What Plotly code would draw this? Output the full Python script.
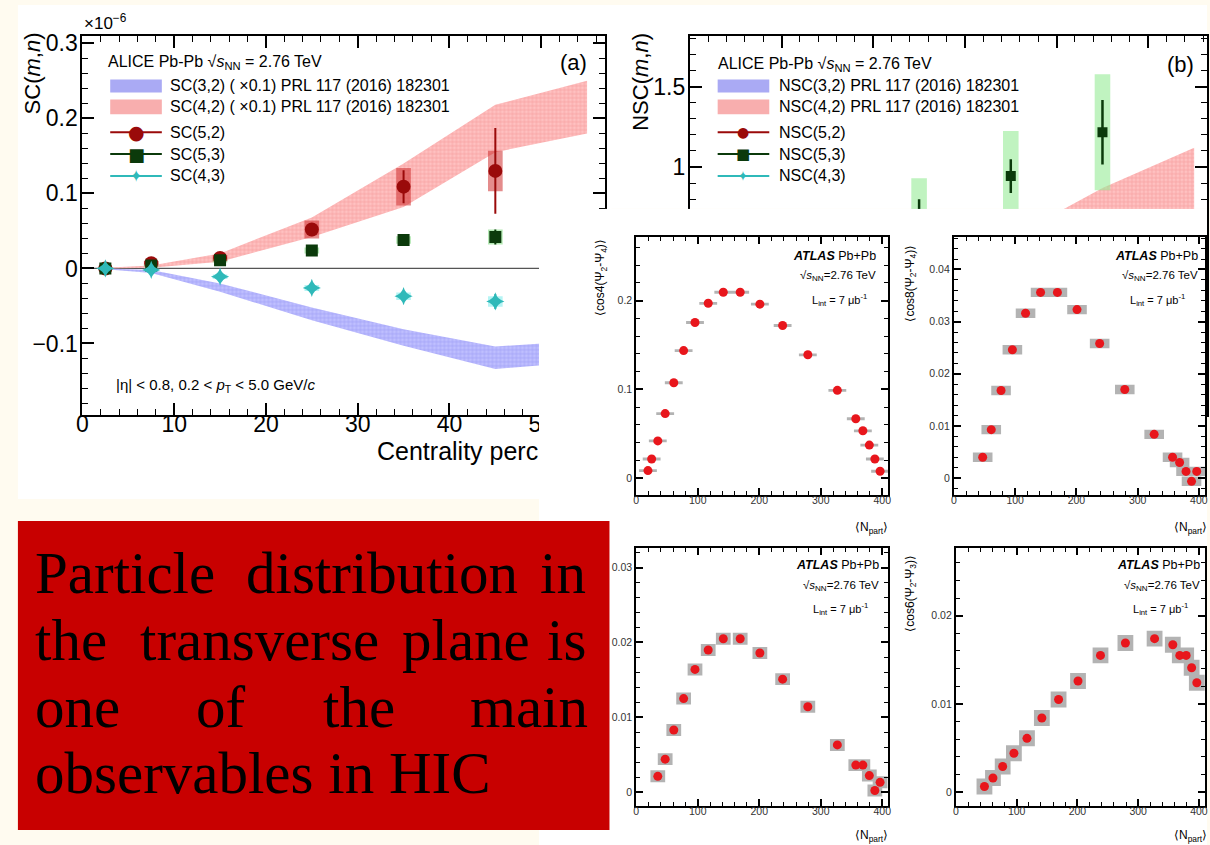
import plotly.graph_objects as go

W, H = 1210, 845
SANS = "Liberation Sans, Arial, Helvetica, sans-serif"
SERIF = "Liberation Serif, Times New Roman, serif"

# ---------------- panel (a): ALICE SC(m,n) ----------------
cent = [2.5, 7.5, 15, 25, 35, 45]
sc52 = [0.000, 0.007, 0.014, 0.052, 0.109, 0.130]
sc52_stat = [0.002, 0.002, 0.003, 0.007, 0.022, 0.057]
sc52_sys = [0.002, 0.003, 0.004, 0.012, 0.025, 0.027]
sc53 = [0.000, 0.004, 0.011, 0.024, 0.038, 0.042]
sc53_stat = [0.001, 0.002, 0.003, 0.003, 0.004, 0.010]
sc53_sys = [0.002, 0.002, 0.003, 0.004, 0.005, 0.010]
sc43 = [0.000, -0.002, -0.011, -0.026, -0.037, -0.044]
sc43_stat = [0.001, 0.002, 0.004, 0.005, 0.005, 0.010]
sc43_sys = [0.002, 0.002, 0.003, 0.004, 0.005, 0.007]

band_cent = [2.5, 7.5, 15, 25, 35, 45, 55]
sc32_lo = [-0.001, -0.006, -0.031, -0.069, -0.103, -0.134, -0.124]
sc32_hi = [0.000, -0.002, -0.020, -0.052, -0.081, -0.104, -0.096]
sc42_lo = [0.000, 0.001, 0.009, 0.042, 0.082, 0.155, 0.180]
sc42_hi = [0.001, 0.004, 0.020, 0.068, 0.140, 0.218, 0.250]

a_xticks = [0, 10, 20, 30, 40, 50]
a_xlabels = ["0", "10", "20", "30", "40", "50"]
a_yticks = [-0.1, 0, 0.1, 0.2, 0.3]
a_ylabels = ["\u22120.1", "0", "0.1", "0.2", "0.3"]

# ---------------- panel (b): ALICE NSC(m,n) ----------------
nsc52 = [0.05, 0.12, 0.25, 0.38, 0.46, 0.52]
nsc52_stat = [0.02, 0.02, 0.03, 0.04, 0.06, 0.10]
nsc52_sys = [0.02, 0.03, 0.04, 0.05, 0.06, 0.08]
nsc53 = [0.02, 0.15, 0.40, 0.68, 0.944, 1.216]
nsc53_stat = [0.05, 0.06, 0.08, 0.12, 0.105, 0.20]
nsc53_sys = [0.05, 0.08, 0.15, 0.25, 0.28, 0.36]
nsc43 = [-0.02, -0.08, -0.15, -0.22, -0.28, -0.30]
nsc43_stat = [0.03, 0.04, 0.05, 0.06, 0.08, 0.12]
nsc43_sys = [0.03, 0.04, 0.05, 0.06, 0.07, 0.09]
nsc32_lo = [-0.04, -0.10, -0.20, -0.28, -0.34, -0.38, -0.40]
nsc32_hi = [-0.01, -0.06, -0.15, -0.23, -0.29, -0.33, -0.34]
nsc42_lo = [0.04, 0.09, 0.18, 0.30, 0.42, 0.58, 0.72]
nsc42_hi = [0.10, 0.16, 0.26, 0.40, 0.56, 0.87, 1.12]
b_yticks = [0, 0.5, 1, 1.5]
b_ylabels = ["0", "0.5", "1", "1.5"]

# ---------------- ATLAS event-plane correlations ----------------
npart = [19, 25, 35, 47, 61, 77, 95.5, 117, 141.5, 169, 201, 238, 279, 327, 357, 368.5, 379, 388, 396.5]
cos4_24 = [0.0086, 0.0216, 0.042, 0.0728, 0.1075, 0.1437, 0.1754, 0.197, 0.2094, 0.2094,
           0.196, 0.172, 0.139, 0.099, 0.067, 0.0534, 0.0373, 0.0216, 0.0078]
cos4_24_sys = [0.0016, 0.0016, 0.0016, 0.0016, 0.0016, 0.0016, 0.0016, 0.0016, 0.0016, 0.0016,
               0.0016, 0.0016, 0.0016, 0.0016, 0.0016, 0.0016, 0.0016, 0.0016, 0.0016]
npart_c8 = npart[3:]
cos8_24 = [0.0040, 0.0093, 0.0168, 0.0246, 0.0316, 0.0356, 0.0356, 0.0323, 0.0258, 0.0170,
           0.0084, 0.0040, 0.0030, 0.0013, -0.0006, 0.0013]
cos8_24_sys = [0.0009, 0.0009, 0.0009, 0.0009, 0.0009, 0.0009, 0.0009, 0.0009, 0.0009, 0.0009,
               0.0009, 0.0009, 0.0009, 0.0009, 0.0009, 0.0009]
npart_bl = npart[2:]
cos_bl = [0.0021, 0.0044, 0.0083, 0.0125, 0.0164, 0.0190, 0.0205, 0.0205, 0.0186, 0.0151,
          0.0114, 0.0063, 0.0036, 0.0036, 0.0022, 0.0002, 0.0013]
cos_bl_sys = [0.0008, 0.0008, 0.0008, 0.0008, 0.0008, 0.0008, 0.0008, 0.0008, 0.0008, 0.0008,
              0.0008, 0.0008, 0.0008, 0.0008, 0.0008, 0.0008, 0.0008]
npart_c6 = npart[3:]
cos6_23 = [0.00064, 0.0016, 0.0029, 0.0044, 0.0061, 0.0084, 0.0105, 0.0126, 0.0155, 0.0169,
           0.0174, 0.0167, 0.0155, 0.0155, 0.0141, 0.0124]
cos6_23_sys = [0.0009, 0.0009, 0.0009, 0.0009, 0.0009, 0.0009, 0.0009, 0.0009, 0.0009, 0.0009,
               0.0009, 0.0009, 0.0009, 0.0009, 0.0009, 0.0009]

atlas_xticks = [0, 100, 200, 300, 400]
atlas_xlabels = ["0", "100", "200", "300", "400"]
tl_yticks = [0, 0.1, 0.2]
tl_ylabels = ["0", "0.1", "0.2"]
tr_yticks = [0, 0.01, 0.02, 0.03, 0.04]
tr_ylabels = ["0", "0.01", "0.02", "0.03", "0.04"]
bl_yticks = [0, 0.01, 0.02, 0.03]
bl_ylabels = ["0", "0.01", "0.02", "0.03"]
br_yticks = [0, 0.01, 0.02]
br_ylabels = ["0", "0.01", "0.02"]

slide_lines = [
    ["Particle", "distribution", "in"],
    ["the", "transverse", "plane", "is"],
    ["one", "of", "the", "main"],
    ["observables in HIC"],
]


# ---------------- helpers ----------------
def fx(p):
    return p / W


def fy(p):
    return 1 - p / H


def band(xs, lo, hi):
    return list(xs) + list(xs)[::-1], list(hi) + list(lo)[::-1]


def boxes(xs, ys, errs, hw):
    bx, by = [], []
    for x, y, e in zip(xs, ys, errs):
        bx += [x - hw, x + hw, x + hw, x - hw, x - hw, None]
        by += [y - e, y - e, y + e, y + e, y - e, None]
    return bx, by


fig = go.Figure()


def add_band(xs, lo, hi, xa, ya, bg, fg):
    bx, by = band(xs, lo, hi)
    fig.add_trace(go.Scatter(x=bx, y=by, xaxis=xa, yaxis=ya, mode="lines", fill="toself",
                             line=dict(width=0), fillcolor=bg,
                             fillpattern=dict(shape="+", size=4, solidity=0.35, fgcolor=fg, bgcolor=bg),
                             hoverinfo="skip", showlegend=False))


def add_boxes(xs, ys, errs, hw, xa, ya, color):
    bx, by = boxes(xs, ys, errs, hw)
    fig.add_trace(go.Scatter(x=bx, y=by, xaxis=xa, yaxis=ya, mode="lines", fill="toself",
                             line=dict(width=0), fillcolor=color, hoverinfo="skip", showlegend=False))


def add_points(xs, ys, errs, xa, ya, color, symbol, size, ethick=2):
    fig.add_trace(go.Scatter(x=xs, y=ys, xaxis=xa, yaxis=ya, mode="markers",
                             marker=dict(symbol=symbol, size=size, color=color, line=dict(width=0)),
                             error_y=dict(type="data", array=errs, thickness=ethick, width=0, color=color),
                             hoverinfo="skip", showlegend=False))


# colours
C52, C53, C43 = "#9a0a0a", "#0b3a0b", "#2fb9b9"
PINK_BG, PINK_FG = "rgba(255,182,182,0.85)", "rgba(236,120,120,0.9)"
BLUE_BG, BLUE_FG = "rgba(180,180,255,0.85)", "rgba(125,125,235,0.9)"

# ---------------- panel (a) traces ----------------
add_band(band_cent, sc32_lo, sc32_hi, "x", "y", BLUE_BG, BLUE_FG)
add_band(band_cent, sc42_lo, sc42_hi, "x", "y", PINK_BG, PINK_FG)
add_boxes(cent, sc52, sc52_sys, 0.8, "x", "y", "rgba(205,45,45,0.55)")
add_boxes(cent, sc53, sc53_sys, 0.8, "x", "y", "rgba(120,215,120,0.55)")
add_boxes(cent, sc43, sc43_sys, 0.8, "x", "y", "rgba(120,235,235,0.55)")
add_points(cent, sc52, sc52_stat, "x", "y", C52, "circle", 14)
add_points(cent, sc53, sc53_stat, "x", "y", C53, "square", 12)
add_points(cent, sc43, sc43_stat, "x", "y", C43, "star-diamond", 13)

# ---------------- panel (b) traces ----------------
add_band(band_cent, nsc32_lo, nsc32_hi, "x2", "y2", BLUE_BG, BLUE_FG)
add_band(band_cent, nsc42_lo, nsc42_hi, "x2", "y2", PINK_BG, PINK_FG)
add_boxes(cent, nsc52, nsc52_sys, 0.85, "x2", "y2", "rgba(235,140,140,0.55)")
add_boxes(cent, nsc53, nsc53_sys, 0.85, "x2", "y2", "rgba(150,235,150,0.6)")
add_boxes(cent, nsc43, nsc43_sys, 0.85, "x2", "y2", "rgba(150,240,240,0.6)")
add_points(cent, nsc52, nsc52_stat, "x2", "y2", C52, "circle", 10, 2.5)
add_points(cent, nsc53, nsc53_stat, "x2", "y2", C53, "square", 10, 2.5)
add_points(cent, nsc43, nsc43_stat, "x2", "y2", C43, "star-diamond", 12, 2.5)

# ---------------- white page of the ATLAS figure (covers panels a/b) ----------------
fig.add_trace(go.Scatter(x=[0, 1, 1, 0, 0], y=[0, 0, 1, 1, 0], xaxis="x3", yaxis="y3", mode="lines",
                         fill="toself", fillcolor="white", line=dict(width=0),
                         hoverinfo="skip", showlegend=False))

# ---------------- ATLAS traces ----------------
RED, GRAY = "#e8161c", "rgba(175,175,175,0.95)"
for xs, ys, sy, hw, xa, ya in [
    (npart, cos4_24, cos4_24_sys, 14.5, "x4", "y4"),
    (npart_c8, cos8_24, cos8_24_sys, 16, "x5", "y5"),
    (npart_bl, cos_bl, cos_bl_sys, 12, "x6", "y6"),
    (npart_c6, cos6_23, cos6_23_sys, 13, "x7", "y7"),
]:
    add_boxes(xs, ys, sy, hw, xa, ya, GRAY)
    fig.add_trace(go.Scatter(x=xs, y=ys, xaxis=xa, yaxis=ya, mode="markers",
                             marker=dict(symbol="circle", size=9, color=RED),
                             hoverinfo="skip", showlegend=False))


# ---------------- axes ----------------
def frame_axis(domain, rng, tickvals, ticktext, mdtick, tlen, mlen, fsize, anchor, lw=2,
               fcolor="black", standoff=0):
    return dict(domain=domain, range=rng, autorange=False, tickmode="array",
                tickvals=tickvals, ticktext=ticktext, ticks="inside", ticklen=tlen,
                tickwidth=1.5, tickcolor="black", ticklabelstandoff=standoff,
                minor=dict(ticks="inside", ticklen=mlen, tickmode="linear", tick0=0, dtick=mdtick,
                           tickwidth=1, tickcolor="black", showgrid=False),
                showline=True, linecolor="black", linewidth=lw, mirror="allticks",
                showgrid=False, zeroline=False, anchor=anchor, fixedrange=True,
                tickfont=dict(family=SANS, size=fsize, color=fcolor))


layout_axes = dict(
    xaxis=frame_axis([fx(77), fx(603)], [0, 56.9], a_xticks, a_xlabels, 2, 12, 6, 23, "y", standoff=-12),
    yaxis=frame_axis([fy(412), fy(31)], [-0.1947, 0.31], a_yticks, a_ylabels, 0.02, 12, 6, 23, "x", standoff=-2),
    xaxis2=frame_axis([fx(689), fx(1210)], [0, 56.4], a_xticks, a_xlabels, 2, 12, 6, 23, "y2", standoff=-12),
    yaxis2=frame_axis([fy(412), fy(31)], [-0.537, 1.815], b_yticks, b_ylabels, 0.1, 12, 6, 23, "x2", standoff=-2),
    xaxis3=dict(domain=[fx(537), 1], range=[0, 1], visible=False, fixedrange=True, anchor="y3"),
    yaxis3=dict(domain=[0, fy(205)], range=[0, 1], visible=False, fixedrange=True, anchor="x3"),
    xaxis4=frame_axis([fx(635), fx(889)], [0, 410], atlas_xticks, atlas_xlabels, 20, 7, 4, 10.5, "y4", 2, "#333", -6),
    yaxis4=frame_axis([fy(493), fy(233)], [-0.019, 0.2721], tl_yticks, tl_ylabels, 0.02, 7, 4, 10.5, "x4", 2, "#333"),
    xaxis5=frame_axis([fx(955), fx(1208)], [0, 410], atlas_xticks, atlas_xlabels, 20, 7, 4, 10.5, "y5", 2, "#333", -6),
    yaxis5=frame_axis([fy(493), fy(233)], [-0.00324, 0.04629], tr_yticks, tr_ylabels, 0.002, 7, 4, 10.5, "x5", 2, "#333"),
    xaxis6=frame_axis([fx(635), fx(889)], [0, 410], atlas_xticks, atlas_xlabels, 20, 7, 4, 10.5, "y6", 2, "#333", -6),
    yaxis6=frame_axis([fy(806), fy(546)], [-0.0019, 0.03267], bl_yticks, bl_ylabels, 0.002, 7, 4, 10.5, "x6", 2, "#333"),
    xaxis7=frame_axis([fx(957), fx(1208)], [0, 410], atlas_xticks, atlas_xlabels, 20, 7, 4, 10.5, "y7", 2, "#333", -6),
    yaxis7=frame_axis([fy(806), fy(546)], [-0.0016, 0.0277], br_yticks, br_ylabels, 0.002, 7, 4, 10.5, "x7", 2, "#333"),
)

# ---------------- shapes ----------------
shapes = []


def rect(x0, y0, x1, y1, color, layer="below"):
    shapes.append(dict(type="rect", xref="paper", yref="paper", x0=fx(x0), x1=fx(x1),
                       y0=fy(y1), y1=fy(y0), fillcolor=color, line=dict(width=0), layer=layer))


def seg(x0, x1, y, color, width=2):
    shapes.append(dict(type="line", xref="paper", yref="paper", x0=fx(x0), x1=fx(x1),
                       y0=fy(y), y1=fy(y), line=dict(color=color, width=width), layer="above"))


rect(12, 0, 610, 497, "white")          # ALICE (a) page
rect(600, 0, 1210, 205, "white")        # ALICE (b) page
rect(537, 205, 1210, 845, "white")      # ATLAS page
rect(12, 519, 608, 830, "#c80000", layer="above")  # red text box

# zero lines
shapes.append(dict(type="line", xref="x domain", yref="y", x0=0, x1=1, y0=0, y1=0,
                   line=dict(color="#555", width=1.2), layer="below"))
for xa, ya in [("x4", "y4"), ("x5", "y5"), ("x6", "y6"), ("x7", "y7")]:
    shapes.append(dict(type="line", xref=xa + " domain", yref=ya, x0=0, x1=1, y0=0, y1=0,
                       line=dict(color="#5b6a95", width=1.6, dash="dot"), layer="below"))

# legend swatches (a) and (b)
for lx0, lx1 in [(105, 157), (717, 769)]:
    rect(lx0, 75, lx1, 88, "#aaaaf4", layer="above")
    rect(lx0, 95, lx1, 110, "#f8aeae", layer="above")
    seg(lx0, lx1, 128, C52)
    seg(lx0, lx1, 150, C53)
    seg(lx0, lx1, 172, C43)

# ---------------- annotations ----------------
ann = []


def text(x, y, s, size, xanchor="left", yanchor="middle", color="black", family=SANS, angle=0):
    ann.append(dict(x=fx(x), y=fy(y), xref="paper", yref="paper", text=s, showarrow=False,
                    xanchor=xanchor, yanchor=yanchor, textangle=angle,
                    font=dict(family=family, size=size, color=color)))


# panel (a)
text(77, 17, "\u00d710<sup>\u22126</sup>", 17)
text(27, 69, "SC(<i>m</i>,<i>n</i>)", 22, xanchor="center", angle=-90)
text(572, 58, "(a)", 22, xanchor="center")
text(101, 58, "ALICE Pb-Pb \u221a<i>s</i><sub>NN</sub> = 2.76 TeV", 16)
a_leg = ["SC(3,2) ( \u00d70.1) PRL 117 (2016) 182301", "SC(4,2) ( \u00d70.1) PRL 117 (2016) 182301",
         "SC(5,2)", "SC(5,3)", "SC(4,3)"]
b_leg = ["NSC(3,2) PRL 117 (2016) 182301", "NSC(4,2) PRL 117 (2016) 182301",
         "NSC(5,2)", "NSC(5,3)", "NSC(4,3)"]
leg_y = [81, 102, 128, 150, 172]
for s, yy in zip(a_leg, leg_y):
    text(163, yy, s, 16)
text(131, 128, "\u25cf", 19, xanchor="center", color=C52, family="DejaVu Sans")
text(131, 150, "\u25a0", 18, xanchor="center", color=C53, family="DejaVu Sans")
text(131, 172, "\u2726", 17, xanchor="center", color=C43, family="DejaVu Sans")
text(109, 383, "|\u03b7| &lt; 0.8, 0.2 &lt; <i>p</i><sub>T</sub> &lt; 5.0 GeV/<i>c</i>", 15)
text(538, 449, "Centrality perc", 25, xanchor="right")

# panel (b)
text(639, 77, "NSC(<i>m</i>,<i>n</i>)", 22, xanchor="center", angle=-90)
text(1183, 60, "(b)", 22, xanchor="center")
text(715, 60, "ALICE Pb-Pb \u221a<i>s</i><sub>NN</sub> = 2.76 TeV", 16)
for s, yy in zip(b_leg, leg_y):
    text(777, yy, s, 16)
text(743, 128, "\u25cf", 14, xanchor="center", color=C52, family="DejaVu Sans")
text(743, 150, "\u25a0", 15, xanchor="center", color=C53, family="DejaVu Sans")
text(743, 172, "\u2726", 14, xanchor="center", color=C43, family="DejaVu Sans")

# ATLAS labels
for rx, lx, y0 in [(879, 869, 252), (1203, 1190, 252), (882, 870, 563), (1205, 1193, 563)]:
    text(rx, y0, "<b><i>ATLAS</i></b> Pb+Pb", 12.5, xanchor="right")
    text(rx, y0 + 21, "\u221a<i>s</i><sub>NN</sub>=2.76 TeV", 11.5, xanchor="right")
    text(lx, y0 + 45, "L<sub>int</sub> = 7 \u03bcb<sup>-1</sup>", 11, xanchor="right")
text(600, 274, "\u27e8cos4(\u03a8<sub>2</sub>-\u03a8<sub>4</sub>)\u27e9", 12, xanchor="center", angle=-90)
text(912, 280, "\u27e8cos8(\u03a8<sub>2</sub>-\u03a8<sub>4</sub>)\u27e9", 12, xanchor="center", angle=-90)
text(912, 592, "\u27e8cos6(\u03a8<sub>2</sub>-\u03a8<sub>3</sub>)\u27e9", 12, xanchor="center", angle=-90)
for rx, yy in [(891, 526), (1212, 526), (891, 836), (1212, 836)]:
    text(rx, yy, "\u27e8N<sub>part</sub>\u27e9", 12, xanchor="right")

# red box text (justified lines)
line_y = [571, 639, 706, 773]
word_pos = [
    [(27, "left"), (379, "center"), (586, "right")],
    [(27, "left"), (255, "center"), (463, "center"), (586, "right")],
    [(27, "left"), (217, "center"), (356, "center"), (588, "right")],
    [(27, "left")],
]
for words, pos, yy in zip(slide_lines, word_pos, line_y):
    for w, (xx, anc) in zip(words, pos):
        text(xx, yy, w, 59, xanchor=anc, family=SERIF)

fig.update_layout(
    width=W, height=H, margin=dict(l=0, r=0, t=0, b=0),
    paper_bgcolor="#fffbf0", plot_bgcolor="rgba(0,0,0,0)",
    showlegend=False, shapes=shapes, annotations=ann, **layout_axes,
)

fig.write_html("out.html")
